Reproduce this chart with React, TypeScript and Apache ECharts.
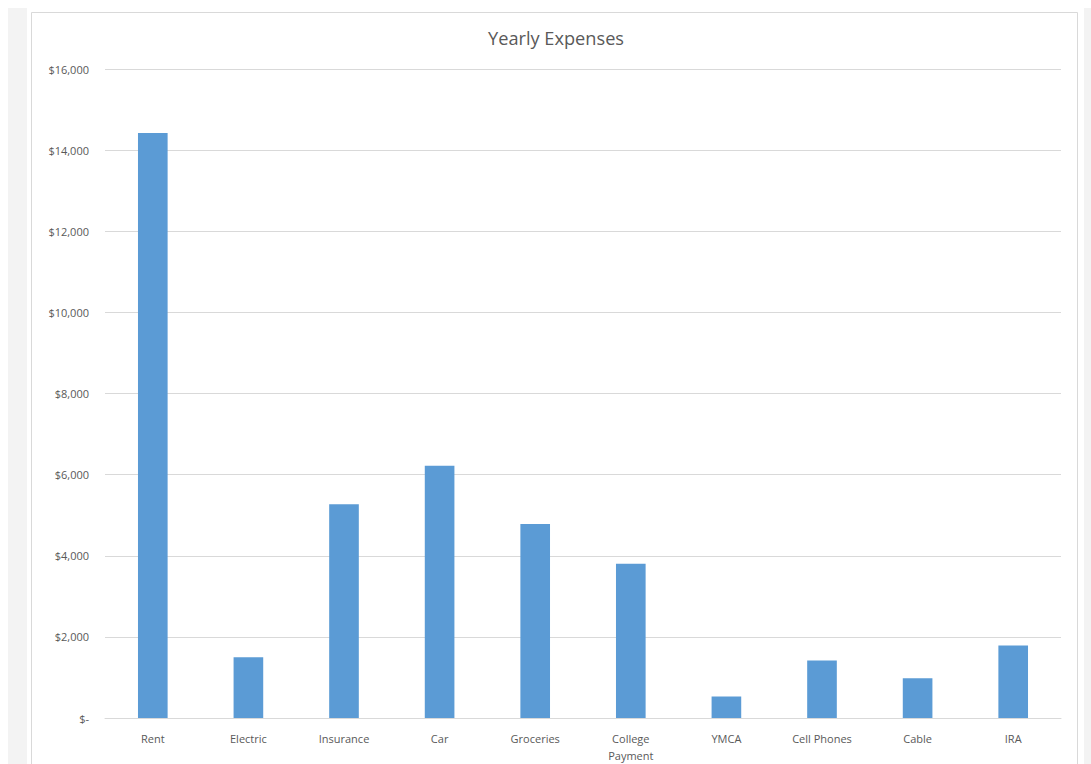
import React, { useEffect, useRef } from "react";
import * as echarts from "echarts";

const categories = ["Rent", "Electric", "Insurance", "Car", "Groceries", "College\nPayment", "YMCA", "Cell Phones", "Cable", "IRA"];
const expenses = [14420, 1500, 5270, 6220, 4780, 3800, 530, 1420, 980, 1790];
const yTicks = [0, 2000, 4000, 6000, 8000, 10000, 12000, 14000, 16000];

export default function App() {
  const ref = useRef<HTMLDivElement>(null);
  useEffect(() => {
    if (!ref.current) return;
    const chart = echarts.init(ref.current, undefined, { renderer: "svg" });
    chart.setOption({
      animation: false,
      backgroundColor: "#ffffff",
      graphic: [
        { type: "rect", shape: { x: 8, y: 8, width: 19, height: 760 }, style: { fill: "#f3f3f3" }, silent: true },
        { type: "rect", shape: { x: 1084, y: 8, width: 10, height: 760 }, style: { fill: "#f3f3f3" }, silent: true },
        { type: "rect", shape: { x: 31.5, y: 12.5, width: 1046, height: 800 }, style: { fill: "none", stroke: "#d9d9d9", lineWidth: 1 }, silent: true },
      ],
      title: {
        text: "Yearly Expenses",
        left: 483,
        top: 24,
        textStyle: { fontFamily: "Open Sans", fontSize: 18.2, fontWeight: "normal", color: "#595959" },
      },
      grid: { left: 105, right: 30, top: 69, bottom: 44, containLabel: false },
      xAxis: {
        type: "category",
        data: categories,
        axisLine: { lineStyle: { color: "#d9d9d9" } },
        axisTick: { show: false },
        axisLabel: { color: "#595959", fontFamily: "Open Sans", fontSize: 11, margin: 12, interval: 0, lineHeight: 17 },
      },
      yAxis: {
        type: "value",
        min: yTicks[0],
        max: yTicks[yTicks.length - 1],
        interval: 2000,
        axisLine: { show: false },
        axisTick: { show: false },
        splitLine: { lineStyle: { color: "#d9d9d9" } },
        axisLabel: {
          color: "#595959",
          fontFamily: "Open Sans",
          fontSize: 11,
          margin: 16,
          formatter: (v: number) => (v === 0 ? "$-" : "$" + v.toLocaleString("en-US")),
        },
      },
      series: [
        {
          type: "bar",
          data: expenses,
          barWidth: "31%",
          itemStyle: { color: "#5b9bd5" },
        },
      ],
    });
    return () => chart.dispose();
  }, []);
  return <div ref={ref} style={{ position: "fixed", left: 0, top: 0, width: 1091, height: 764 }} />;
}
